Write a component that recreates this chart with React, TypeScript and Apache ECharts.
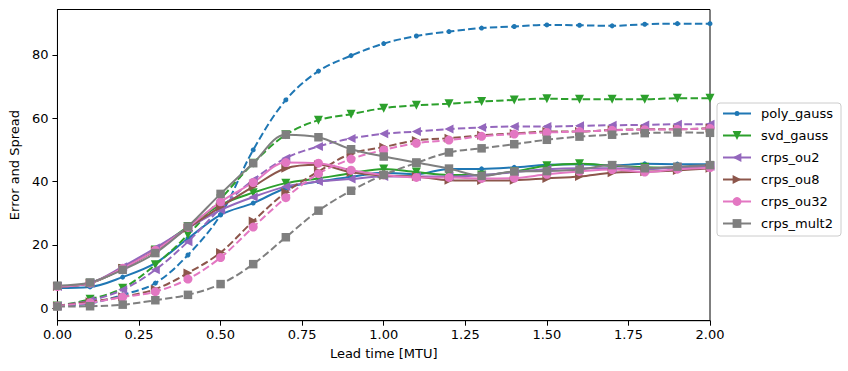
import React, { useEffect, useRef } from "react";
import * as echarts from "echarts";

const leadTimes = [0, 0.1, 0.2, 0.3, 0.4, 0.5, 0.6, 0.7, 0.8, 0.9, 1.0, 1.1, 1.2, 1.3, 1.4, 1.5, 1.6, 1.7, 1.8, 1.9, 2.0];

const polyGaussError = [6.4, 6.7, 9.8, 14.2, 22.0, 29.5, 33.2, 37.9, 40.0, 41.5, 42.8, 42.3, 44.0, 44.0, 44.5, 45.3, 45.5, 45.1, 45.6, 45.5, 45.5];
const polyGaussSpread = [0.7, 1.5, 4.2, 7.9, 16.8, 29.5, 50.0, 65.8, 74.9, 79.8, 83.6, 86.0, 87.4, 88.5, 89.0, 89.5, 89.4, 89.2, 89.7, 89.9, 89.9];

const svdGaussError = [6.8, 7.9, 12.5, 18.4, 25.8, 32.6, 36.5, 39.5, 41.0, 42.6, 44.0, 43.0, 42.1, 42.1, 43.2, 45.0, 45.6, 45.0, 44.5, 44.3, 45.0];
const svdGaussSpread = [0.7, 2.8, 6.3, 13.7, 23.2, 34.5, 45.8, 54.8, 59.4, 61.3, 63.2, 64.1, 64.6, 65.3, 65.8, 66.2, 66.0, 66.0, 66.0, 66.3, 66.3];

const crpsOu2Error = [6.8, 7.9, 13.1, 19.0, 25.3, 31.0, 35.1, 38.4, 40.0, 40.8, 41.6, 41.6, 41.6, 42.0, 43.0, 43.9, 44.2, 44.2, 43.9, 44.5, 44.8];
const crpsOu2Spread = [0.7, 2.4, 5.8, 12.1, 21.0, 31.5, 40.5, 47.4, 51.1, 53.6, 55.1, 55.8, 56.6, 57.1, 57.4, 57.4, 57.6, 57.8, 57.9, 58.1, 58.1];

const crpsOu8Error = [6.8, 7.9, 12.6, 18.2, 25.3, 32.0, 38.4, 44.2, 45.3, 42.9, 41.9, 41.6, 40.4, 40.3, 40.4, 41.0, 41.6, 42.8, 43.1, 43.5, 44.2];
const crpsOu8Spread = [0.7, 2.0, 3.6, 6.0, 11.1, 17.6, 27.5, 36.6, 43.2, 48.8, 50.9, 53.0, 53.7, 54.6, 55.2, 55.8, 55.8, 56.3, 56.5, 56.5, 56.9];

const crpsOu32Error = [6.8, 7.9, 12.6, 18.3, 25.5, 33.6, 39.7, 46.0, 45.8, 43.6, 42.1, 41.3, 41.3, 41.0, 41.1, 42.3, 43.2, 43.8, 43.0, 43.9, 44.4];
const crpsOu32Spread = [0.7, 1.7, 3.5, 5.2, 9.2, 16.0, 25.6, 34.9, 42.5, 47.1, 50.0, 52.1, 53.1, 54.3, 55.0, 55.5, 55.8, 56.2, 56.4, 56.5, 56.8];

const crpsMult2Error = [7.1, 8.1, 12.1, 17.4, 25.8, 36.1, 45.8, 54.8, 54.0, 50.2, 47.9, 46.0, 44.1, 41.8, 43.2, 43.3, 43.8, 45.2, 44.2, 44.7, 45.2];
const crpsMult2Spread = [0.5, 0.6, 1.1, 2.5, 4.2, 7.6, 13.9, 22.4, 30.8, 37.1, 42.1, 45.9, 49.2, 50.5, 51.8, 53.2, 54.2, 54.8, 55.3, 55.5, 55.4];

const methodNames = ["poly_gauss", "svd_gauss", "crps_ou2", "crps_ou8", "crps_ou32", "crps_mult2"];
const xTickStep = 0.25;
const yTickValues = [0, 20, 40, 60, 80];

const FONT = "DejaVu Sans";

const methods = [
  { name: methodNames[0], err: polyGaussError, spr: polyGaussSpread, color: "#1f77b4", symbol: "circle", rot: 0, size: 5 },
  { name: methodNames[1], err: svdGaussError, spr: svdGaussSpread, color: "#2ca02c", symbol: "triangle", rot: 180, size: 9 },
  { name: methodNames[2], err: crpsOu2Error, spr: crpsOu2Spread, color: "#9467bd", symbol: "triangle", rot: 90, size: 9 },
  { name: methodNames[3], err: crpsOu8Error, spr: crpsOu8Spread, color: "#8c564b", symbol: "triangle", rot: -90, size: 9 },
  { name: methodNames[4], err: crpsOu32Error, spr: crpsOu32Spread, color: "#e377c2", symbol: "circle", rot: 0, size: 9 },
  { name: methodNames[5], err: crpsMult2Error, spr: crpsMult2Spread, color: "#7f7f7f", symbol: "rect", rot: 0, size: 8.5 },
];

const dotIcon =
  "path://M0 6.5L11.6 6.5L11.6 8.5L0 8.5Z M16.4 6.5L28 6.5L28 8.5L16.4 8.5Z M11.5 7.5A2.5 2.5 0 1 1 16.5 7.5A2.5 2.5 0 1 1 11.5 7.5Z";

export default function App() {
  const ref = useRef<HTMLDivElement>(null);

  useEffect(() => {
    if (!ref.current) return;
    const chart = echarts.init(ref.current, undefined, { renderer: "svg" });

    const series: any[] = [];
    methods.forEach((m) => {
      const base = {
        type: "line",
        smooth: 0.35,
        symbol: m.symbol,
        symbolSize: m.size,
        symbolRotate: m.rot,
        showAllSymbol: true,
        itemStyle: { color: m.color },
        emphasis: { disabled: true },
      };
      series.push({
        ...base,
        name: m.name,
        data: leadTimes.map((t, i) => [t, m.err[i]]),
        lineStyle: { color: m.color, width: 2, type: "solid" },
      });
      series.push({
        ...base,
        name: m.name + " spread",
        data: leadTimes.map((t, i) => [t, m.spr[i]]),
        lineStyle: { color: m.color, width: 2, type: [7.5, 3.3] },
      });
    });

    chart.setOption({
      animation: false,
      textStyle: { fontFamily: FONT },
      grid: {
        left: 54,
        right: 138,
        top: 9.5,
        bottom: 50.3,
        show: true,
        borderColor: "#000",
        borderWidth: 1,
        backgroundColor: "transparent",
      },
      legend: {
        orient: "vertical",
        left: 717,
        top: 103,
        itemWidth: 28,
        itemHeight: 11,
        itemGap: 9,
        padding: [4, 8, 6, 5],
        borderColor: "#cccccc",
        borderWidth: 1,
        borderRadius: 3,
        backgroundColor: "rgba(255,255,255,0.8)",
        textStyle: { fontFamily: FONT, fontSize: 13, color: "#000", padding: [0, 0, 0, 5], lineHeight: 11 },
        data: methodNames.map((n, i) => (i === 0 ? { name: n, icon: dotIcon } : { name: n })),
        selectedMode: false,
      },
      xAxis: {
        type: "value",
        min: 0,
        max: 2,
        interval: xTickStep,
        name: "Lead time [MTU]",
        nameLocation: "middle",
        nameGap: 26,
        nameTextStyle: { fontFamily: FONT, fontSize: 13, color: "#000" },
        axisLine: { show: true, onZero: false, lineStyle: { color: "#000", width: 1 } },
        axisTick: { show: true, inside: false, length: 5, lineStyle: { color: "#000", width: 1 } },
        axisLabel: {
          fontFamily: FONT,
          fontSize: 13,
          color: "#000",
          margin: 7,
          formatter: (v: number) => v.toFixed(2),
        },
        splitLine: { show: false },
      },
      yAxis: {
        type: "value",
        min: -3.97,
        max: 94.37,
        name: "Error and Spread",
        nameLocation: "middle",
        nameGap: 30,
        nameRotate: 90,
        nameTextStyle: { fontFamily: FONT, fontSize: 13, color: "#000" },
        axisLine: { show: true, onZero: false, lineStyle: { color: "#000", width: 1 } },
        axisTick: { show: true, inside: false, length: 5, customValues: yTickValues, lineStyle: { color: "#000", width: 1 } },
        axisLabel: {
          fontFamily: FONT,
          fontSize: 13,
          color: "#000",
          margin: 9,
          customValues: yTickValues,
          formatter: (v: number) => String(Math.round(v)),
        },
        splitLine: { show: false },
      },
      series,
    });

    return () => chart.dispose();
  }, []);

  return (
    <div
      ref={ref}
      style={{ position: "fixed", left: 0, top: 0, width: 848, height: 371, background: "#fff" }}
    />
  );
}
